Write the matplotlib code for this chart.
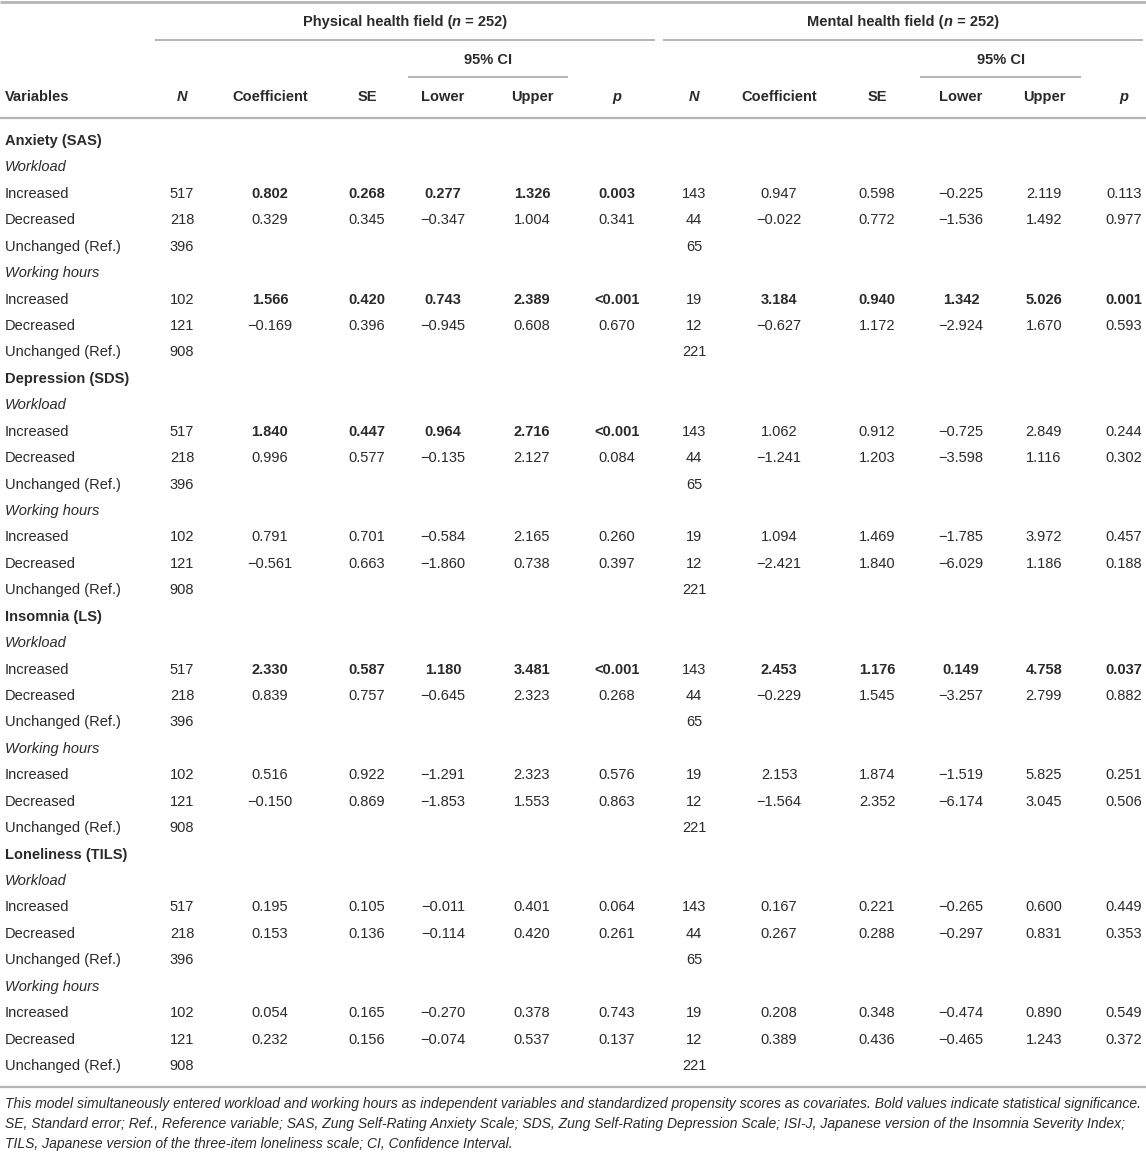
import matplotlib
matplotlib.use("Agg")
import matplotlib.pyplot as plt

# ---------------- data ----------------
fields = ["Physical health field", "Mental health field"]
field_n = [252, 252]
sections = ["Anxiety (SAS)", "Depression (SDS)", "Insomnia (LS)", "Loneliness (TILS)"]
subgroups = ["Workload", "Working hours"]
levels = ["Increased", "Decreased", "Unchanged (Ref.)"]
col_headers = ["N", "Coefficient", "SE", "Lower", "Upper", "p"]

n_physical = {"Workload": [517, 218, 396], "Working hours": [102, 121, 908]}
n_mental = {"Workload": [143, 44, 65], "Working hours": [19, 12, 221]}

# rows: section x subgroup x (Increased, Decreased); values: coef, se, lower, upper, p
physical_coef = [0.802, 0.329, 1.566, -0.169, 1.840, 0.996, 0.791, -0.561,
                 2.330, 0.839, 0.516, -0.150, 0.195, 0.153, 0.054, 0.232]
physical_se = [0.268, 0.345, 0.420, 0.396, 0.447, 0.577, 0.701, 0.663,
               0.587, 0.757, 0.922, 0.869, 0.105, 0.136, 0.165, 0.156]
physical_lower = [0.277, -0.347, 0.743, -0.945, 0.964, -0.135, -0.584, -1.860,
                  1.180, -0.645, -1.291, -1.853, -0.011, -0.114, -0.270, -0.074]
physical_upper = [1.326, 1.004, 2.389, 0.608, 2.716, 2.127, 2.165, 0.738,
                  3.481, 2.323, 2.323, 1.553, 0.401, 0.420, 0.378, 0.537]
physical_p = ["0.003", "0.341", "<0.001", "0.670", "<0.001", "0.084", "0.260", "0.397",
              "<0.001", "0.268", "0.576", "0.863", "0.064", "0.261", "0.743", "0.137"]

mental_coef = [0.947, -0.022, 3.184, -0.627, 1.062, -1.241, 1.094, -2.421,
               2.453, -0.229, 2.153, -1.564, 0.167, 0.267, 0.208, 0.389]
mental_se = [0.598, 0.772, 0.940, 1.172, 0.912, 1.203, 1.469, 1.840,
             1.176, 1.545, 1.874, 2.352, 0.221, 0.288, 0.348, 0.436]
mental_lower = [-0.225, -1.536, 1.342, -2.924, -0.725, -3.598, -1.785, -6.029,
                0.149, -3.257, -1.519, -6.174, -0.265, -0.297, -0.474, -0.465]
mental_upper = [2.119, 1.492, 5.026, 1.670, 2.849, 1.116, 3.972, 1.186,
                4.758, 2.799, 5.825, 3.045, 0.600, 0.831, 0.890, 1.243]
mental_p = ["0.113", "0.977", "0.001", "0.593", "0.244", "0.302", "0.457", "0.188",
            "0.037", "0.882", "0.251", "0.506", "0.449", "0.353", "0.549", "0.372"]

footnote = [
    "This model simultaneously entered workload and working hours as independent variables and standardized propensity scores as covariates. Bold values indicate statistical significance.",
    "SE, Standard error; Ref., Reference variable; SAS, Zung Self-Rating Anxiety Scale; SDS, Zung Self-Rating Depression Scale; ISI-J, Japanese version of the Insomnia Severity Index;",
    "TILS, Japanese version of the three-item loneliness scale; CI, Confidence Interval.",
]

# ---------------- layout ----------------
W, H = 1146, 1156
DPI = 100
FONT = "Liberation Sans"
TXT = "#2a2a2a"
LINE = "#b4b4b4"
FS = 10.5

fig = plt.figure(figsize=(W / DPI, H / DPI), dpi=DPI)
ax = fig.add_axes([0, 0, 1, 1])
ax.set_xlim(0, W)
ax.set_ylim(H, 0)
ax.axis("off")
renderer = fig.canvas.get_renderer()

phys_x = [182, 270, 367, 443, 532, 617]
ment_x = [694, 779, 877, 961, 1044, 1124]


def fmt(v):
    s = f"{v:.3f}"
    return s.replace("-", "\u2212")


def t(x, y, s, ha="center", weight="normal", style="normal", size=FS):
    return ax.text(x, y, s, ha=ha, va="center", fontsize=size, fontweight=weight,
                   fontstyle=style, family=FONT, color=TXT)


def width_px(txt):
    return txt.get_window_extent(renderer=renderer).width


def hline(y, x0, x1, lw=1.4):
    ax.plot([x0, x1], [y, y], color=LINE, lw=lw, solid_capstyle="butt")


# rules
hline(2, 0, W, lw=2.0)
hline(40, 155, 655)
hline(40, 663, 1143)
hline(77, 408, 568)
hline(77, 920, 1081)
hline(118, 0, W, lw=1.6)
hline(1087, 0, W, lw=1.6)

# field headers (with italic n), assembled from pieces
for i, cx in enumerate([405, 903]):
    parts = [(fields[i] + " (", "normal"), ("n", "italic"), (f" = {field_n[i]})", "normal")]
    objs = [t(0, 22, p, ha="left", weight="bold", style=st) for p, st in parts]
    widths = [width_px(o) for o in objs]
    x = cx - sum(widths) / 2
    for o, w in zip(objs, widths):
        o.set_x(x)
        x += w

t(488, 60, "95% CI", weight="bold")
t(1001, 60, "95% CI", weight="bold")

t(5, 97, "Variables", ha="left", weight="bold")
for xs in (phys_x, ment_x):
    for j, h in enumerate(col_headers):
        if h in ("N", "p"):
            t(xs[j], 97, h, weight="bold", style="italic")
        else:
            t(xs[j], 97, h, weight="bold")

# body
y0, dy = 141, 26.43
row = 0
k = 0
for si, sec in enumerate(sections):
    t(5, y0 + row * dy, sec, ha="left", weight="bold")
    row += 1
    for sg in subgroups:
        t(5, y0 + row * dy, sg, ha="left", style="italic")
        row += 1
        for li, lev in enumerate(levels):
            y = y0 + row * dy
            t(5, y, lev, ha="left")
            t(phys_x[0], y, str(n_physical[sg][li]))
            t(ment_x[0], y, str(n_mental[sg][li]))
            if li < 2:
                for xs, vals, pv in (
                    (phys_x, [physical_coef[k], physical_se[k], physical_lower[k], physical_upper[k]], physical_p[k]),
                    (ment_x, [mental_coef[k], mental_se[k], mental_lower[k], mental_upper[k]], mental_p[k]),
                ):
                    pnum = 0.0 if pv.startswith("<") else float(pv)
                    wgt = "bold" if pnum < 0.05 else "normal"
                    for j, v in enumerate(vals):
                        t(xs[j + 1], y, fmt(v), weight=wgt)
                    t(xs[5], y, pv, weight=wgt)
                k += 1
            row += 1

# footnote: size chosen so the first line spans the table width
probe = t(5, 1104, footnote[0], ha="left", style="italic", size=10)
fsize = 10 * 1136 / width_px(probe)
probe.remove()
for i, line in enumerate(footnote):
    t(5, 1104 + i * 20, line, ha="left", style="italic", size=fsize)

fig.savefig("out.png", dpi=DPI, facecolor="white")
